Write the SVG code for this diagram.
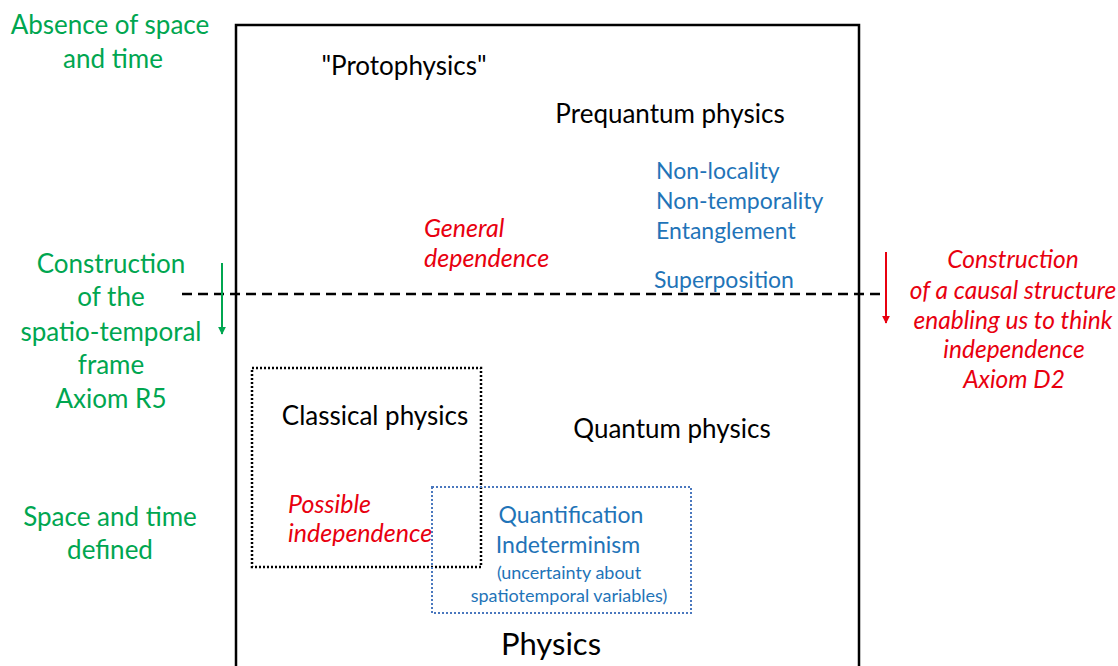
<svg xmlns="http://www.w3.org/2000/svg" width="1118" height="666" viewBox="0 0 1118 666">
<defs>
<style>
text{font-family:Lato,"Liberation Sans",sans-serif;font-size:26px}
.g{fill:#00A650;text-anchor:middle}
.k{fill:#000}
.b{fill:#1F74B8;font-size:23px}
.r{fill:#E8000F;font-style:italic;font-size:25px}
.rr{font-size:24.5px;text-anchor:middle}
.m{text-anchor:middle}
.s{font-size:18px}
</style>
<marker id="ag" viewBox="0 0 10 10" refX="5" refY="9" markerWidth="8" markerHeight="8" markerUnits="userSpaceOnUse"><path d="M0,0 L10,0 L5,10 z" fill="#00A650"/></marker>
<marker id="ar" viewBox="0 0 10 10" refX="5" refY="9" markerWidth="8" markerHeight="8" markerUnits="userSpaceOnUse"><path d="M0,0 L10,0 L5,10 z" fill="#E8000F"/></marker>
</defs>
<rect width="1118" height="666" fill="#fff"/>
<g id="physics-frame">
<path d="M236,680 L236,25 L859,25 L859,680" fill="none" stroke="#000" stroke-width="2.5"/>
<text class="k m" x="551" y="655" style="font-size:31px">Physics</text>
</g>
<g id="connectors">
<line x1="182" y1="294" x2="884" y2="294" stroke="#000" stroke-width="2.5" stroke-dasharray="10,6"/>
<line x1="222" y1="263" x2="222" y2="334" stroke="#00A650" stroke-width="2" marker-end="url(#ag)"/>
<line x1="886" y1="252" x2="886" y2="323" stroke="#E8000F" stroke-width="2" marker-end="url(#ar)"/>
</g>
<g id="left-labels">
<text class="g" x="110" y="34">Absence of space</text>
<text class="g" x="113" y="68">and time</text>
<text class="g" x="111" y="273">Construction</text>
<text class="g" x="111" y="306">of the</text>
<text class="g" x="111" y="341">spatio-temporal</text>
<text class="g" x="111" y="374">frame</text>
<text class="g" x="111" y="408">Axiom R5</text>
<text class="g" x="110" y="526">Space and time</text>
<text class="g" x="110" y="559">defined</text>
</g>
<g id="protophysics">
<text class="k m" x="404" y="75">"Protophysics"</text>
</g>
<g id="prequantum">
<text class="k m" x="670" y="123">Prequantum physics</text>
<text class="b" x="656" y="179">Non-locality</text>
<text class="b" x="656" y="209">Non-temporality</text>
<text class="b" x="656" y="239">Entanglement</text>
<text class="b" x="654" y="288">Superposition</text>
</g>
<g id="general-dependence">
<text class="r" x="424" y="237">General</text>
<text class="r" x="424" y="267">dependence</text>
</g>
<g id="right-labels">
<text class="r rr" x="1013" y="268">Construction</text>
<text class="r rr" x="1013" y="299">of a causal structure</text>
<text class="r rr" x="1013" y="329">enabling us to think</text>
<text class="r rr" x="1014" y="358">independence</text>
<text class="r rr" x="1014" y="388">Axiom D2</text>
</g>
<g id="classical">
<rect x="252" y="368" width="229" height="199" fill="none" stroke="#000" stroke-width="2.5" stroke-dasharray="2,2"/>
<text class="k m" x="375" y="425">Classical physics</text>
<text class="r" x="288" y="513">Possible</text>
<text class="r" x="288" y="542">independence</text>
</g>
<g id="quantum">
<text class="k m" x="672" y="438">Quantum physics</text>
<rect x="432" y="487" width="259" height="126" fill="none" stroke="#4A78BE" stroke-width="2" stroke-dasharray="2,2"/>
<text class="b m" x="571" y="523">Quantification</text>
<text class="b m" x="568" y="553">Indeterminism</text>
<text class="b m s" x="569" y="579">(uncertainty about</text>
<text class="b m s" x="569" y="602">spatiotemporal variables)</text>
</g>
</svg>
